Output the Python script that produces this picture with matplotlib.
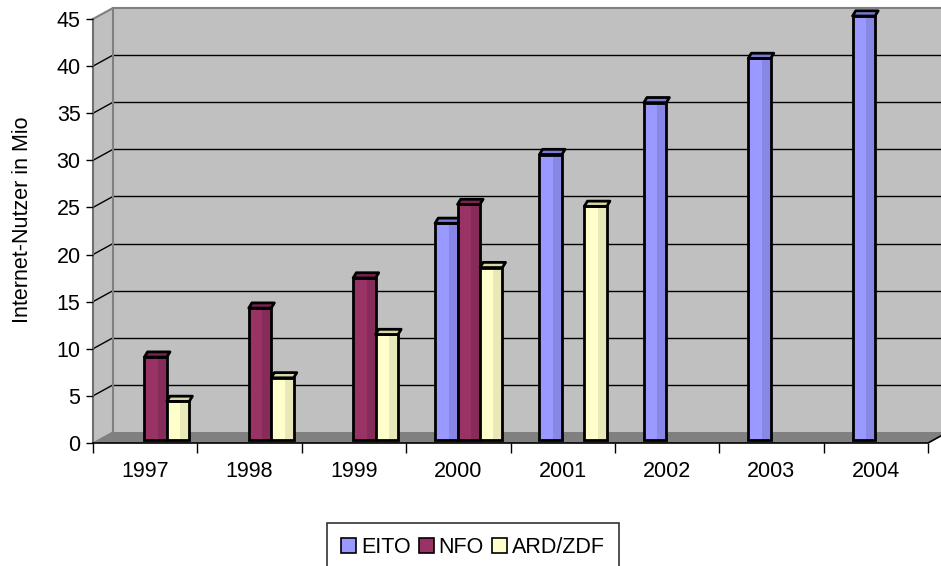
import matplotlib
matplotlib.use("Agg")
import matplotlib.pyplot as plt
from matplotlib.patches import Polygon, Rectangle, Patch

plt.rcParams['font.family'] = ['Liberation Sans', 'DejaVu Sans']

years = ['1997', '1998', '1999', '2000', '2001', '2002', '2003', '2004']
series_names = ['EITO', 'NFO', 'ARD/ZDF']
eito = [None, None, None, 23.0, 30.3, 35.8, 40.5, 45.0]
nfo = [8.8, 14.0, 17.2, 25.0, None, None, None, None]
ard_zdf = [4.1, 6.6, 11.2, 18.3, 24.8, None, None, None]
yticks = [0, 5, 10, 15, 20, 25, 30, 35, 40, 45]

face_colors = ['#9999FF', '#993366', '#FFFFCC']
shade_colors = ['#8787E6', '#862B5A', '#E8E8B8']
top_colors = ['#7B7BD6', '#7A2450', '#D8D8A8']

FS = 15.5
W, H = 941, 566
fig = plt.figure(figsize=(W / 100, H / 100), dpi=100)
x0px, x1px, y0px, y1px = 93, 928, 443, 19
ax = fig.add_axes([x0px / W, (H - y0px) / H, (x1px - x0px) / W, (y0px - y1px) / H])
n = len(years)
ax.set_xlim(0, n)
ax.set_ylim(0, 45)
ax.set_facecolor('none')
for s in ax.spines.values():
    s.set_visible(False)

# 3D offsets (depth) in data units
ddx = 20 / ((x1px - x0px) / n)
ddy = 11 / ((y0px - y1px) / 45)
ymax = 45

# back wall
ax.add_patch(Polygon([(ddx, ddy), (n + ddx, ddy), (n + ddx, ymax + ddy), (ddx, ymax + ddy)],
                     closed=True, facecolor='#C0C0C0', edgecolor='none', clip_on=False, zorder=0))
# left wall
ax.add_patch(Polygon([(0, 0), (ddx, ddy), (ddx, ymax + ddy), (0, ymax)],
                     closed=True, facecolor='#C0C0C0', edgecolor='none', clip_on=False, zorder=0))
# floor
ax.add_patch(Polygon([(0, 0), (n, 0), (n + ddx, ddy), (ddx, ddy)],
                     closed=True, facecolor='#808080', edgecolor='none', clip_on=False, zorder=0.5))
# gridlines on back wall & diagonals on left wall
for v in yticks[1:-1]:
    ax.plot([ddx, n + ddx], [v + ddy, v + ddy], color='black', lw=1, zorder=0.6, clip_on=False)
    ax.plot([0, ddx], [v, v + ddy], color='black', lw=1, zorder=0.6, clip_on=False)
# wall edges
ax.plot([ddx, ddx], [ddy, ymax + ddy], color='#808080', lw=1.5, zorder=0.7, clip_on=False)
ax.plot([0, ddx, n + ddx], [ymax, ymax + ddy, ymax + ddy], color='#808080', lw=1.5, zorder=0.7, clip_on=False)
ax.plot([0, ddx], [0, ddy], color='#808080', lw=1, zorder=0.7, clip_on=False)
# front axis lines
ax.plot([0, 0], [0, ymax], color='#707070', lw=1.5, zorder=0.8, clip_on=False)
ax.plot([0, n, n + ddx], [0, 0, ddy], color='black', lw=1.2, zorder=5, clip_on=False)

# bars
bw = 0.215
group_off = 0.1
bar_base = 3 / ((y0px - y1px) / 45)
cap_dx = 0.03
cap_dy = 0.55
for si, vals in enumerate([eito, nfo, ard_zdf]):
    for j, v in enumerate(vals):
        if v is None:
            continue
        c = j + 0.5 + group_off + (si - 1) * bw
        left = c - bw / 2
        bot = bar_base
        top = bar_base + v
        z = 2 + si * 0.1
        ax.add_patch(Rectangle((left, bot), bw, v, facecolor=face_colors[si], edgecolor='none',
                               zorder=z, clip_on=False))
        ax.add_patch(Rectangle((left + bw * 0.6, bot), bw * 0.4, v, facecolor=shade_colors[si],
                               edgecolor='none', zorder=z + 0.01, clip_on=False))
        ax.add_patch(Rectangle((left, bot), bw, v, facecolor='none', edgecolor='black', lw=2,
                               zorder=z + 0.02, clip_on=False))
        ax.add_patch(Polygon([(left, top), (left + bw, top), (left + bw + cap_dx, top + cap_dy),
                              (left + cap_dx, top + cap_dy)], closed=True,
                             facecolor=top_colors[si], edgecolor='black', lw=2, joinstyle='round',
                             zorder=z + 0.03, clip_on=False))

# ticks
ax.set_yticks(yticks)
ax.set_yticklabels([str(t) for t in yticks])
ax.tick_params(axis='y', length=5, width=1, color='black', pad=4, labelsize=FS, left=True)
ax.set_xticks([j + 0.5 for j in range(n)])
ax.set_xticklabels(years)
ax.tick_params(axis='x', which='major', length=0, pad=13, labelsize=FS)
ax.set_xticks(list(range(n + 1)), minor=True)
ax.tick_params(axis='x', which='minor', length=7, width=1, color='black', direction='out')

ax.set_ylabel('Internet-Nutzer in Mio', fontsize=FS)
ax.yaxis.set_label_coords((33 - x0px) / (x1px - x0px), (y0px - 220) / (y0px - y1px))

handles = [Patch(facecolor=face_colors[i], edgecolor='black', lw=1.2) for i in range(3)]
leg = fig.legend(handles, series_names, loc='upper center', bbox_to_anchor=(473 / W, 1 - 523 / H),
                 ncol=3, frameon=True, fancybox=False, edgecolor='black', fontsize=FS,
                 handlelength=0.7, handleheight=0.7, handletextpad=0.2, columnspacing=0.4,
                 borderpad=0.65, borderaxespad=0)
leg.get_frame().set_linewidth(1.2)

fig.savefig('out.png', dpi=100)
